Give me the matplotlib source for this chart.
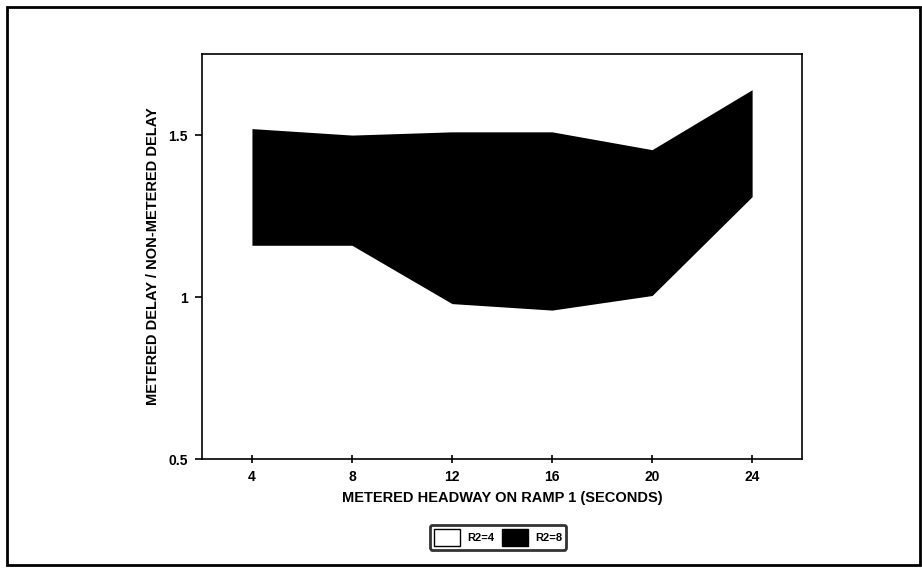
import numpy as np
import matplotlib
matplotlib.use('Agg')
import matplotlib.pyplot as plt
from matplotlib import rcParams as parameters
from matplotlib.patches import Patch, Rectangle

parameters['font.family'] = ['Liberation Sans', 'DejaVu Sans']
parameters['font.weight'] = 'bold'

# metered headway on ramp 1 (seconds)
headway = [4, 8, 12, 16, 20, 24]
# delay ratio, R2=4 (lower edge of band) and R2=8 (upper edge)
ratio_r2_4 = [1.16, 1.16, 0.98, 0.96, 1.005, 1.31]
ratio_r2_8 = [1.52, 1.50, 1.51, 1.51, 1.455, 1.64]

series_names = ['R2=4', 'R2=8']
x_ticks = [4, 8, 12, 16, 20, 24]
y_ticks = [0.5, 1, 1.5]
y_tick_labels = ['0.5', '1', '1.5']

fig = plt.figure(figsize=(9.22, 5.69), dpi=100)
ax = fig.add_axes([0.219, 0.193, 0.651, 0.712])

# area chart: white area up to R2=4, black band up to R2=8
ax.fill_between(headway, 0.5, ratio_r2_4, color='white', linewidth=0)
ax.fill_between(headway, ratio_r2_4, ratio_r2_8, color='black', linewidth=0)

ax.set_xlim(2, 26)
ax.set_ylim(0.5, 1.75)
ax.set_xticks(x_ticks)
ax.set_xticklabels([str(v) for v in x_ticks], fontsize=10, fontweight='bold')
ax.set_yticks(y_ticks)
ax.set_yticklabels(y_tick_labels, fontsize=10, fontweight='bold')
ax.tick_params(axis='x', direction='inout', length=6, width=1.2, pad=5)
ax.tick_params(axis='y', direction='out', length=5, width=1.2, pad=5)
for side in ax.spines.values():
	side.set_linewidth(1.2)

ax.set_xlabel('METERED HEADWAY ON RAMP 1 (SECONDS)', fontsize=10.5, fontweight='bold', labelpad=5)
ax.set_ylabel('METERED DELAY / NON-METERED DELAY', fontsize=10.5, fontweight='bold', labelpad=6)

# legend below the plot
handles = [
	Patch(facecolor='white', edgecolor='black', linewidth=1),
	Patch(facecolor='black', edgecolor='black', linewidth=1),
]
leg = fig.legend(handles, series_names, loc='center', bbox_to_anchor=(0.54, 0.056),
	ncol=2, fontsize=8, frameon=True, fancybox=True, handlelength=2.4, handleheight=2.0,
	columnspacing=0.7, handletextpad=0.6, borderpad=0.35)
leg.get_frame().set_edgecolor('black')
leg.get_frame().set_linewidth(2)
for t in leg.get_texts():
	t.set_fontweight('bold')

# outer frame of the figure
fig.patches.append(Rectangle((0.008, 0.007), 0.99, 0.98, transform=fig.transFigure,
	fill=False, edgecolor='black', linewidth=2))

plt.savefig('out.png', dpi=100)
plt.close()
